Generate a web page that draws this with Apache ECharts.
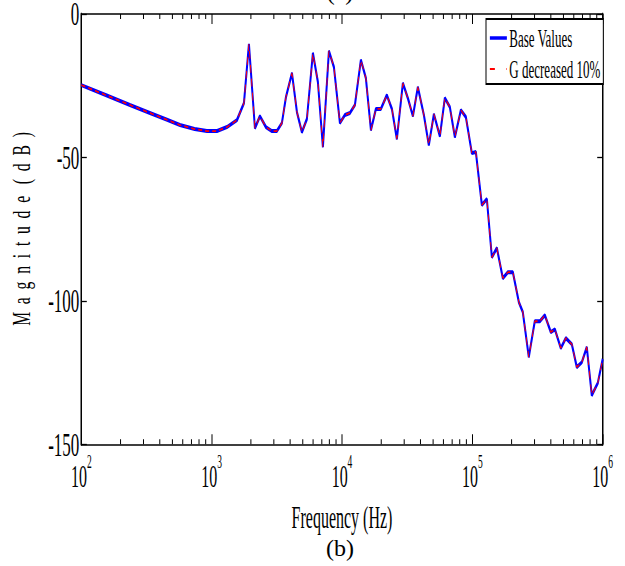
<!DOCTYPE html>
<html>
<head>
<meta charset="utf-8">
<script src="https://cdn.jsdelivr.net/npm/echarts@6/dist/echarts.min.js"></script>
<style>
html, body { margin: 0; padding: 0; overflow: hidden; background: #fff; }
#chart { width: 1250px; height: 566px; transform: scaleX(0.5); transform-origin: 0 0; }
</style>
</head>
<body>
<div id="chart"></div>
<script>
// ---- data ----
const freqHz = [100, 157, 236, 336, 450, 571, 740, 920, 1100, 1310, 1563, 1770, 1932, 2148, 2346, 2607, 2899, 3167, 3459, 3715,
  4130, 4511, 4924, 5379, 5980, 6532, 7138, 7937, 8670, 9640, 10525, 11500, 12560, 13960, 15240, 16670, 18200, 19860,
  22080, 24150, 26360, 29310, 31990, 34990, 38190, 42460, 46350, 50700, 56360, 61520, 67160, 73450, 81660, 89150,
  99100, 106400, 118300, 129200, 141200, 154200, 171400, 187100, 204600, 227500, 243800, 271000, 301400, 329600,
  359700, 399900, 429500, 477500, 521300, 579600, 632800, 691800, 755100, 824700, 916300, 1000000];

const baseValues = [-24.8, -28.4, -31.7, -34.5, -36.8, -38.7, -40.1, -40.8, -40.8, -39.4, -37.0, -31.0, -10.5, -39.8, -35.6, -39.4, -40.8, -40.8, -38.0, -29.0,
  -20.6, -34.2, -41.2, -36.6, -13.6, -23.7, -46.4, -12.9, -18.5, -38.0, -35.2, -34.5, -31.7, -16.0, -22.3, -40.5, -33.1, -33.1,
  -28.3, -33.1, -43.6, -24.1, -29.3, -35.6, -25.5, -35.2, -45.7, -34.9, -42.6, -29.3, -32.4, -42.9, -33.5, -35.9,
  -48.5, -48.1, -66.6, -64.5, -84.8, -81.6, -92.1, -90.0, -90.0, -100.5, -103.9, -119.6, -107.1, -107.1,
  -105.0, -110.9, -109.9, -116.5, -113.0, -115.1, -123.1, -121.4, -116.1, -132.9, -128.7, -120.3];

const gDecreased = [-24.8, -28.4, -31.7, -34.5, -36.8, -38.7, -40.1, -40.8, -40.8, -39.4, -37.0, -31.0, -10.5, -39.8, -35.6, -39.4, -40.8, -40.8, -38.0, -29.0,
  -20.6, -34.2, -41.2, -36.6, -13.6, -23.7, -46.4, -12.9, -18.5, -38.0, -35.2, -34.5, -31.7, -16.0, -22.3, -40.5, -33.1, -33.1,
  -28.3, -33.1, -43.6, -24.1, -29.3, -35.6, -25.5, -35.2, -45.7, -34.9, -42.6, -29.3, -32.4, -42.9, -33.5, -35.9,
  -48.5, -48.1, -66.6, -64.5, -84.8, -81.6, -92.1, -90.0, -90.0, -100.5, -103.9, -119.6, -107.1, -107.1,
  -105.0, -110.9, -109.9, -116.5, -113.0, -115.1, -123.1, -121.4, -116.1, -132.9, -128.7, -120.3];

const minorTickFreqs = [200, 300, 400, 500, 600, 700, 800, 900,
  2000, 3000, 4000, 5000, 6000, 7000, 8000, 9000,
  20000, 30000, 40000, 50000, 60000, 70000, 80000, 90000,
  200000, 300000, 400000, 500000, 600000, 700000, 800000, 900000];

const seriesNames = ['Base Values', 'G decreased 10%'];
const xLabel = 'Frequency (Hz)';
const yLabel = 'M  a  g  n  i  t  u  d  e   (  d  B  )';
const yTicks = [-150, -100, -50, 0];

// ---- chart ----
const FONT = "'Liberation Serif', 'Times New Roman', serif";
const chart = echarts.init(document.getElementById('chart'), null, { renderer: 'svg' });

const xAxisCommon = {
  type: 'log', logBase: 10, min: 100, max: 1000000,
  splitLine: { show: false }, minorTick: { show: false },
  axisLine: { show: true, onZero: false, lineStyle: { color: '#000', width: 1.5 } },
  axisTick: { show: true, inside: true, length: 10, lineStyle: { color: '#000', width: 2 } }
};
const yAxisCommon = {
  type: 'value', min: yTicks[0], max: yTicks[yTicks.length - 1], interval: 50,
  splitLine: { show: false },
  axisLine: { show: true, onZero: false, lineStyle: { color: '#000', width: 3 } },
  axisTick: { show: true, inside: true, length: 11, lineStyle: { color: '#000', width: 1.3 } }
};

const option = {
  animation: false,
  backgroundColor: '#fff',
  grid: { left: 162.6, right: 44.6, top: 14, bottom: 121.7, containLabel: false, outerBoundsMode: 'none' },
  legend: {
    left: 972, top: 19, orient: 'vertical',
    padding: [6, 6, 2, 6], itemGap: 5,
    itemWidth: 34, itemHeight: 26,
    borderColor: '#000', borderWidth: 2, backgroundColor: '#fff',
    itemStyle: { opacity: 0, borderWidth: 0 },
    textStyle: { fontFamily: FONT, fontSize: 26, color: '#000', lineHeight: 26 },
    data: [
      { name: seriesNames[0], lineStyle: { width: 3.5 } },
      { name: seriesNames[1], lineStyle: { type: [10, 23], width: 1.8 } }
    ]
  },
  xAxis: [
    Object.assign({}, xAxisCommon, {
      position: 'bottom',
      axisLabel: {
        margin: 8,
        formatter: function (v) {
          const e = Math.round(Math.log10(v));
          return '{b|10}{s|' + e + '}';
        },
        rich: {
          b: { fontFamily: FONT, fontSize: 32, lineHeight: 46, color: '#000' },
          s: { fontFamily: FONT, fontSize: 19, lineHeight: 18, verticalAlign: 'top', color: '#000' }
        }
      },
      name: xLabel, nameLocation: 'middle', nameGap: 54,
      nameTextStyle: { fontFamily: FONT, fontSize: 32, color: '#000', lineHeight: 36 }
    }),
    Object.assign({}, xAxisCommon, { position: 'top', axisLabel: { show: false } })
  ],
  yAxis: [
    Object.assign({}, yAxisCommon, {
      position: 'left',
      axisLabel: { margin: 4, fontFamily: FONT, fontSize: 34, lineHeight: 26, color: '#000' }
    }),
    Object.assign({}, yAxisCommon, { position: 'right', axisLabel: { show: false } })
  ],
  graphic: [
    {
      type: 'text', x: 44, y: 229, rotation: Math.PI / 2, scaleX: 0.6, scaleY: 2,
      style: { text: yLabel, fontFamily: FONT, fontSize: 26, fill: '#000', textAlign: 'center', textVerticalAlign: 'middle', verticalAlign: 'middle' }
    },
    {
      type: 'text', x: 680, y: 548, scaleX: 2, scaleY: 1,
      style: { text: '(b)', fontFamily: FONT, fontSize: 24, fill: '#000', textAlign: 'center', textVerticalAlign: 'middle', verticalAlign: 'middle' }
    },
    {
      type: 'text', x: 680, y: 4, scaleX: 2, scaleY: 1,
      style: { text: '(a)', fontFamily: FONT, fontSize: 24, fill: '#000', textAlign: 'center', textVerticalAlign: 'bottom', verticalAlign: 'bottom' }
    }
  ],
  series: [
    {
      name: seriesNames[0], type: 'line', xAxisIndex: 0, yAxisIndex: 0,
      data: freqHz.map((f, i) => [f, baseValues[i]]),
      symbol: 'none', showSymbol: false,
      lineStyle: { color: '#0000ff', width: 4 },
      itemStyle: { color: '#0000ff' }, z: 2
    },
    {
      name: seriesNames[1], type: 'line', xAxisIndex: 0, yAxisIndex: 0,
      data: freqHz.map((f, i) => [f, gDecreased[i]]),
      symbol: 'none', showSymbol: false,
      lineStyle: { color: '#ff0000', width: 1.8, type: [8, 6] },
      itemStyle: { color: '#ff0000' }, z: 3
    },
    {
      type: 'custom', xAxisIndex: 0, yAxisIndex: 0, silent: true, clip: false,
      data: minorTickFreqs.map(f => [f, yTicks[0]]),
      encode: { x: 0, y: 1 },
      renderItem: function (params, api) {
        const p = api.coord([api.value(0), api.value(1)]);
        const cs = params.coordSys;
        const style = { stroke: '#000', lineWidth: 2 };
        return {
          type: 'group', children: [
            { type: 'line', shape: { x1: p[0], y1: cs.y + cs.height, x2: p[0], y2: cs.y + cs.height - 5 }, style: style },
            { type: 'line', shape: { x1: p[0], y1: cs.y, x2: p[0], y2: cs.y + 5 }, style: style }
          ]
        };
      }
    }
  ]
};
chart.setOption(option);
</script>
</body>
</html>
